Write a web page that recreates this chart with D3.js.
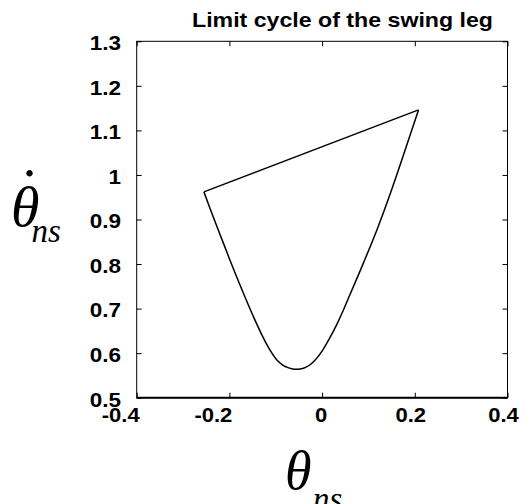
<!DOCTYPE html>
<html>
<head>
<meta charset="utf-8">
<script src="https://cdn.jsdelivr.net/npm/d3@7"></script>
<style>
  body { margin: 0; background: #fff; }
  svg { display: block; }
  .tick-label { font-family: "Liberation Sans", Arial, sans-serif; font-weight: bold; font-size: 21px; fill: #000; }
  .sym { font-family: "Liberation Serif", "Times New Roman", serif; font-style: italic; fill: #000; }
</style>
</head>
<body>
<div id="chart"></div>
<script>
// limit cycle, starting at the upper-left corner,
// down the left branch, round the bottom and up to the upper-right corner
var thetaNs    = [-0.255, -0.235, -0.213, -0.192, -0.170, -0.149, -0.130, -0.112, -0.098, -0.085, -0.072, -0.060, -0.052, -0.040, -0.026, -0.012, 0.002, 0.016, 0.031, 0.046, 0.060, 0.089, 0.118, 0.146, 0.175, 0.208];
var thetaNsDot = [0.962, 0.906, 0.847, 0.791, 0.735, 0.684, 0.641, 0.606, 0.585, 0.573, 0.567, 0.564, 0.564, 0.566, 0.574, 0.588, 0.608, 0.633, 0.663, 0.697, 0.731, 0.802, 0.876, 0.955, 1.043, 1.146];

var xTicks = [-0.4, -0.2, 0, 0.2, 0.4];
var yTicks = [0.5, 0.6, 0.7, 0.8, 0.9, 1, 1.1, 1.2, 1.3];
var titleText = "Limit cycle of the swing leg";

var width = 522, height = 504;
var plot = {left: 136.7, right: 507.5, top: 41.3, bottom: 397.7};

var svg = d3.select("#chart").append("svg")
    .attr("width", width)
    .attr("height", height);

var x = d3.scaleLinear().domain([-0.4, 0.4]).range([plot.left, plot.right]);
var y = d3.scaleLinear().domain([0.5, 1.3]).range([plot.bottom, plot.top]);

// stretch bold labels a little, the original font runs wider than Arial
function widen(sel, k) {
    sel.each(function() {
        var w = this.getComputedTextLength();
        d3.select(this).attr("textLength", w * k).attr("lengthAdjust", "spacingAndGlyphs");
    });
}

// frame
svg.append("rect")
    .attr("x", plot.left).attr("y", plot.top)
    .attr("width", plot.right - plot.left).attr("height", plot.bottom - plot.top)
    .attr("fill", "none").attr("stroke", "#000").attr("stroke-width", 1);
svg.append("line")
    .attr("x1", plot.left).attr("x2", plot.right)
    .attr("y1", plot.bottom).attr("y2", plot.bottom)
    .attr("stroke", "#000").attr("stroke-width", 2);

// inward ticks on all four sides
svg.append("g").attr("transform", "translate(0," + plot.bottom + ")")
    .call(d3.axisBottom(x).tickValues(xTicks).tickSize(-5).tickFormat(""));
svg.append("g").attr("transform", "translate(0," + plot.top + ")")
    .call(d3.axisTop(x).tickValues(xTicks).tickSize(-5).tickFormat(""));
svg.append("g").attr("transform", "translate(" + plot.left + ",0)")
    .call(d3.axisLeft(y).tickValues(yTicks).tickSize(-5).tickFormat(""));
svg.append("g").attr("transform", "translate(" + plot.right + ",0)")
    .call(d3.axisRight(y).tickValues(yTicks).tickSize(-5).tickFormat(""));
svg.selectAll(".domain").remove();
svg.selectAll(".tick line").attr("stroke", "#000");

// tick labels (plain hyphen as minus, like the original)
var xl = svg.append("g").selectAll("text")
    .data(xTicks).enter().append("text")
    .attr("class", "tick-label")
    .attr("x", function(d) { return x(d) + (d < 0 ? -16 : (d === 0 ? -1 : -4)); })
    .attr("y", plot.bottom + 24.5)
    .attr("text-anchor", "middle")
    .text(function(d) { return String(d); });
widen(xl, 1.05);

var yl = svg.append("g").selectAll("text")
    .data(yTicks).enter().append("text")
    .attr("class", "tick-label")
    .attr("x", 121)
    .attr("y", function(d) { return y(d) + 8.8; })
    .attr("text-anchor", "end")
    .text(function(d) { return String(d); });
widen(yl, 1.07);

// title
svg.append("text")
    .attr("class", "tick-label")
    .attr("x", 192)
    .attr("y", 26.8)
    .attr("textLength", 301)
    .attr("lengthAdjust", "spacingAndGlyphs")
    .text(titleText);

// the limit cycle
var pts = thetaNs.map(function(d, i) { return [d, thetaNsDot[i]]; });
var line = d3.line()
    .x(function(d) { return x(d[0]); })
    .y(function(d) { return y(d[1]); })
    .curve(d3.curveCatmullRom.alpha(0.5));
svg.append("path")
    .attr("d", line(pts))
    .attr("fill", "none").attr("stroke", "#000").attr("stroke-width", 1.5);
// impact jump, straight back to the start
svg.append("path")
    .attr("d", d3.line().x(function(d) { return x(d[0]); }).y(function(d) { return y(d[1]); })([pts[pts.length - 1], pts[0]]))
    .attr("fill", "none").attr("stroke", "#000").attr("stroke-width", 1.5);

// axis symbols
var xlab = svg.append("text").attr("class", "sym").attr("x", 285).attr("y", 489);
xlab.append("tspan").attr("font-size", "54px").text("θ");
xlab.append("tspan").attr("font-size", "33px").attr("x", 313).attr("y", 510).text("ns");

var ylab = svg.append("text").attr("class", "sym").attr("x", 11).attr("y", 226);
ylab.append("tspan").attr("font-size", "58px").text("θ");
ylab.append("tspan").attr("font-size", "33px").attr("x", 31.5).attr("y", 241.5).text("ns");
// the time-derivative dot over theta
svg.append("text").attr("class", "sym")
    .attr("x", 29.5).attr("y", 176)
    .attr("text-anchor", "middle")
    .attr("font-size", "54px").style("font-style", "normal")
    .text(".");
</script>
</body>
</html>
